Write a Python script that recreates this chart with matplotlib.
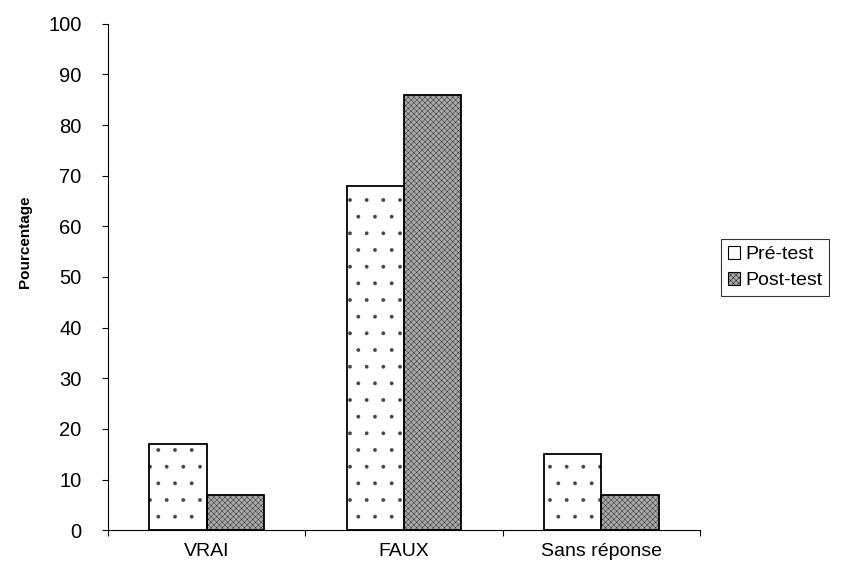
import numpy as np
import matplotlib.pyplot as plt
from matplotlib.patches import Patch

categories = ["VRAI", "FAUX", "Sans réponse"]
pre_test = [17, 68, 15]
post_test = [7, 86, 7]
series_labels = ["Pré-test", "Post-test"]

plt.rcParams['font.family'] = ['Liberation Sans', 'DejaVu Sans']
plt.rcParams['hatch.linewidth'] = 0.3

fig = plt.figure(figsize=(8.57, 5.67), dpi=100)
ax = fig.add_axes([0.126, 0.065, 0.691, 0.893])

x = np.arange(len(categories))
w = 0.29
# hatch fill first (grey hatch), then black outlines on top
ax.bar(x - w / 2, pre_test, w, color='white', edgecolor='#444444',
       hatch='.', linewidth=0)
ax.bar(x + w / 2, post_test, w, color='#a8a8a8', edgecolor='#222222',
       hatch='xxxxxx', linewidth=0)
ax.bar(x - w / 2, pre_test, w, fill=False, edgecolor='black', linewidth=1.3)
ax.bar(x + w / 2, post_test, w, fill=False, edgecolor='black', linewidth=1.3)

ax.set_xlim(-0.5, 2.5)
ax.set_ylim(0, 100)
ax.set_yticks(np.arange(0, 101, 10))
ax.set_xticks([-0.5, 0.5, 1.5, 2.5])
ax.set_xticklabels([])
ax.set_xticks(x, minor=True)
ax.set_xticklabels(categories, minor=True)
ax.tick_params(axis='x', which='minor', length=0, pad=9, labelsize=14)
ax.tick_params(axis='x', which='major', length=4, direction='out', width=0.8)
ax.tick_params(axis='y', length=4, direction='out', width=0.8, labelsize=14.5, pad=15)

ax.spines['top'].set_visible(False)
ax.spines['right'].set_visible(False)
ax.spines['left'].set_linewidth(0.8)
ax.spines['bottom'].set_linewidth(0.8)

ax.set_ylabel("Pourcentage", fontsize=11, fontweight='bold', labelpad=12, y=0.57)

handles = [Patch(facecolor='white', edgecolor='black', hatch='.', linewidth=0.8),
           Patch(facecolor='#a8a8a8', edgecolor='black', hatch='xxxxxx', linewidth=0.8)]
leg = ax.legend(handles, series_labels, loc='upper left', bbox_to_anchor=(1.035, 0.575),
                frameon=True, fancybox=False, edgecolor='black', fontsize=14,
                handlelength=0.65, handleheight=0.65, handletextpad=0.25,
                borderpad=0.35, labelspacing=0.45, borderaxespad=0)
leg.get_frame().set_linewidth(0.8)

fig.savefig("out.png", dpi=100)
